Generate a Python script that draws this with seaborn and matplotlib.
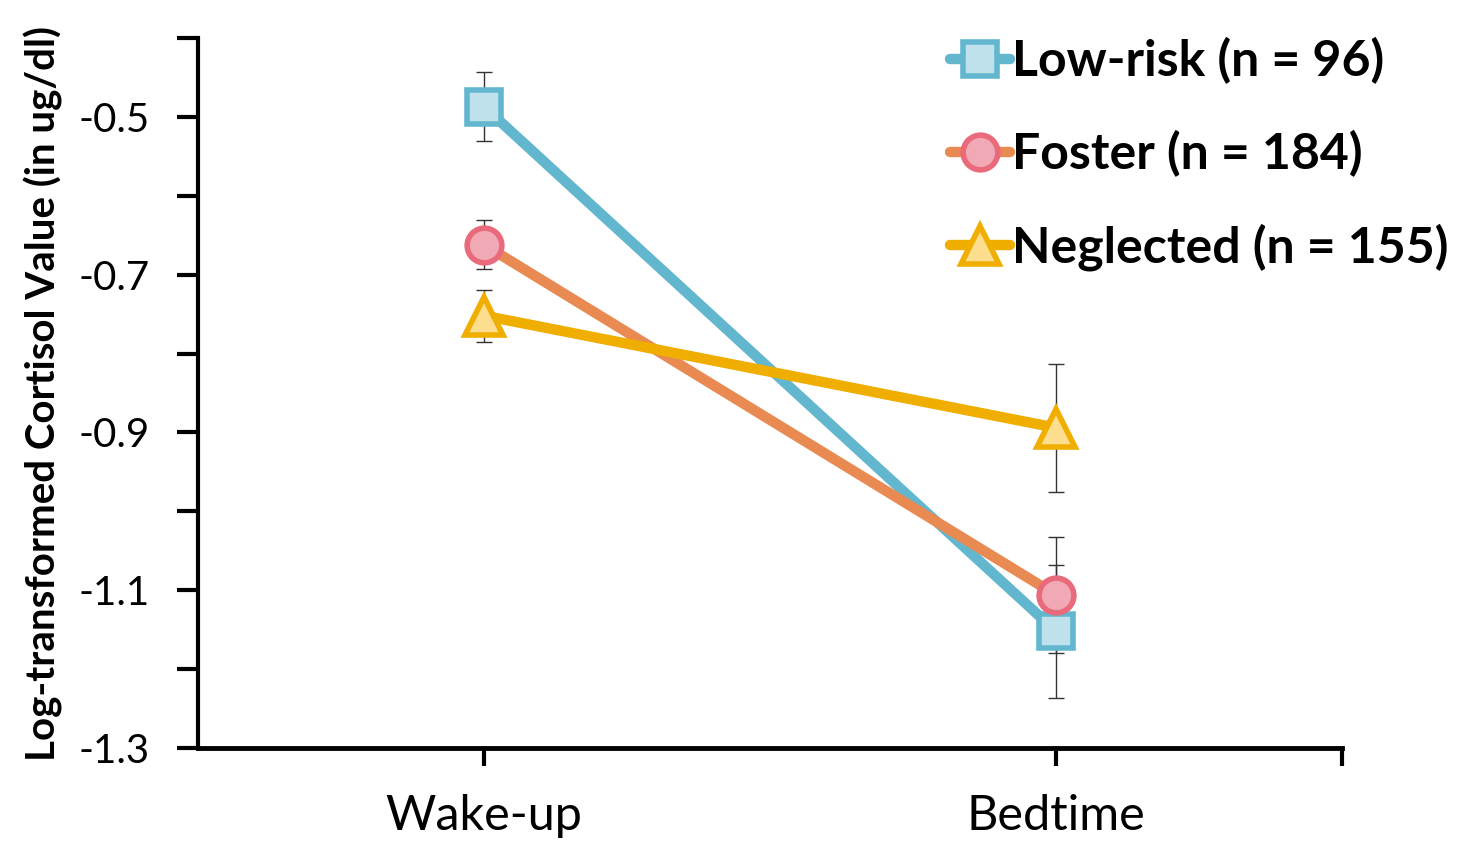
import numpy as np
import pandas as pd
import matplotlib
matplotlib.use("Agg")
import matplotlib.pyplot as plt
import seaborn as sns
from matplotlib.lines import Line2D

# ---- data ----
timepoints = ["Wake-up", "Bedtime"]
groups = ["Low-risk (n = 96)", "Foster (n = 184)", "Neglected (n = 155)"]
lowrisk_mean = [-0.487, -1.152]
foster_mean = [-0.662, -1.106]
neglected_mean = [-0.752, -0.894]
lowrisk_err = [0.044, 0.084]
foster_err = [0.031, 0.074]
neglected_err = [0.033, 0.081]
y_ticks = [-1.3, -1.1, -0.9, -0.7, -0.5]
y_tick_labels = ["-1.3", "-1.1", "-0.9", "-0.7", "-0.5"]

means = [lowrisk_mean, foster_mean, neglected_mean]
errs = [lowrisk_err, foster_err, neglected_err]

line_colors = ["#62B7CF", "#E98A52", "#F0AE00"]
edge_colors = ["#62B7CF", "#E96B7B", "#F0AE00"]
face_colors = ["#BFE1EB", "#F1A9B5", "#FDDE8E"]
markers = ["s", "o", "^"]
msizes = [25, 25, 27]

sns.set_theme(style="white")
plt.rcParams["font.family"] = ["Lato", "DejaVu Sans"]
plt.rcParams["text.color"] = "black"
plt.rcParams["xtick.color"] = "black"
plt.rcParams["ytick.color"] = "black"
plt.rcParams["axes.labelcolor"] = "black"

fig = plt.figure(figsize=(14.59, 8.43), dpi=100)
ax = fig.add_axes([198/1459, 1-748/843, (1342-198)/1459, (748-38)/843])

pos = np.arange(len(timepoints))
rows = []
for g, m, e in zip(groups, means, errs):
    for p, t, mv, ev in zip(pos, timepoints, m, e):
        rows.append({"group": g, "pos": p, "time": t, "mean": mv, "err": ev})
df = pd.DataFrame(rows)

# error bars (behind)
for g in groups:
    d = df[df.group == g]
    ax.errorbar(d["pos"], d["mean"], yerr=d["err"], fmt="none",
                ecolor="#333333", elinewidth=1.0, capsize=6, capthick=1.0, zorder=1)

handles = []
for i, g in enumerate(groups):
    d = df[df.group == g]
    sns.lineplot(data=d, x="pos", y="mean", ax=ax, color=line_colors[i], lw=7.5,
                 marker=markers[i], markersize=msizes[i],
                 markerfacecolor=face_colors[i], markeredgecolor=edge_colors[i],
                 markeredgewidth=4, zorder=3 + i, legend=False,
                 solid_capstyle="round")
    handles.append(Line2D([], [], color=line_colors[i], lw=7.5, marker=markers[i],
                          markersize=msizes[i], markerfacecolor=face_colors[i],
                          markeredgecolor=edge_colors[i], markeredgewidth=4,
                          solid_capstyle="round"))

ax.set_xlim(-0.5, 1.5)
ax.set_ylim(-1.3, -0.4)
ax.set_xticks([0, 1, 1.5])
ax.set_xticklabels(["Wake-up", "Bedtime", ""], fontsize=35)
ax.set_yticks(y_ticks)
ax.set_yticklabels(y_tick_labels, fontsize=29)
ax.set_yticks([-1.2, -1.0, -0.8, -0.6, -0.4], minor=True)
ax.tick_params(axis="y", which="both", direction="out", length=15, width=3,
               color="black", left=True, pad=20)
ax.tick_params(axis="x", which="both", direction="out", length=13, width=3,
               color="black", bottom=True, pad=20)
ax.set_xlabel("")
ax.set_ylabel("Log-transformed Cortisol Value (in ug/dl)", fontsize=29,
              fontweight="bold", labelpad=11)

for s in ["top", "right"]:
    ax.spines[s].set_visible(False)
for s in ["left", "bottom"]:
    ax.spines[s].set_visible(True)
    ax.spines[s].set_color("black")
ax.spines["left"].set_linewidth(3)
ax.spines["bottom"].set_linewidth(3.5)
ax.grid(False)

fig.legend(handles, groups, loc="upper left", bbox_to_anchor=(950/1459, 1-37/843),
           frameon=False, prop={"size": 36, "weight": "bold"}, handlelength=1.2,
           handletextpad=0.05, labelspacing=0.92, borderpad=0, borderaxespad=0)

fig.savefig("out.png", dpi=100)
